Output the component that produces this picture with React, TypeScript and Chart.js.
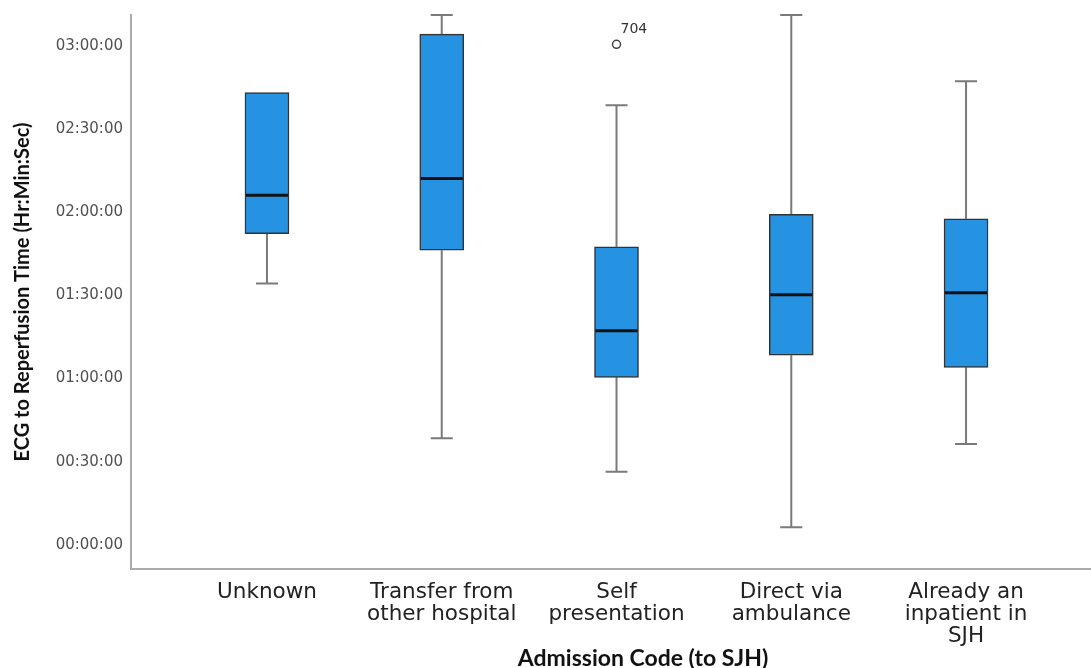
import React, { useEffect, useRef } from 'react';
import { Chart, registerables } from 'chart.js';

Chart.register(...registerables);

// Categories (multi-line tick labels)
const categories: string[][] = [
  ['Unknown'],
  ['Transfer from', 'other hospital'],
  ['Self', 'presentation'],
  ['Direct via', 'ambulance'],
  ['Already an', 'inpatient in', 'SJH'],
];

// Values in minutes
const whiskerLow = [93.8, 37.9, 25.8, 5.8, 35.8];
const quartile1 = [111.8, 105.8, 59.9, 67.9, 63.5];
const medians = [125.6, 131.7, 76.7, 89.7, 90.4];
const quartile3 = [162.7, 183.8, 107.0, 118.7, 117.1];
const whiskerHigh = [162.7, 190.7, 158.1, 190.7, 166.8];

// Outliers
const outlierCategory = [2];
const outlierValue = [180.1];
const outlierLabel = ['704'];

// Axis ticks (minutes)
const yTickValues = [0, 30, 60, 90, 120, 150, 180];
const xTickValues = [0, 1, 2, 3, 4];

const yTitle = 'ECG to Reperfusion Time (Hr:Min:Sec)';
const xTitle = 'Admission Code (to SJH)';

const fmt = (v: number) => {
  const h = Math.floor(v / 60);
  const m = Math.round(v - h * 60);
  const p = (n: number) => String(n).padStart(2, '0');
  return `${p(h)}:${p(m)}:00`;
};

const BOX_HALF = 22;
const CAP_HALF = 11;

const boxPlugin = {
  id: 'boxWhiskers',
  beforeDatasetsDraw(chart: any) {
    const { ctx, scales } = chart;
    const x = scales.x;
    const y = scales.y;
    ctx.save();
    ctx.strokeStyle = '#7a7a7a';
    ctx.lineWidth = 2;
    categories.forEach((_, i) => {
      const cx = x.getPixelForValue(i);
      const yq1 = y.getPixelForValue(quartile1[i]);
      const yq3 = y.getPixelForValue(quartile3[i]);
      const ylo = y.getPixelForValue(whiskerLow[i]);
      const yhi = y.getPixelForValue(whiskerHigh[i]);
      ctx.beginPath();
      ctx.moveTo(cx, yq3);
      ctx.lineTo(cx, yhi);
      ctx.moveTo(cx, yq1);
      ctx.lineTo(cx, ylo);
      if (whiskerHigh[i] > quartile3[i] + 0.01) {
        ctx.moveTo(cx - CAP_HALF, yhi);
        ctx.lineTo(cx + CAP_HALF, yhi);
      }
      if (whiskerLow[i] < quartile1[i] - 0.01) {
        ctx.moveTo(cx - CAP_HALF, ylo);
        ctx.lineTo(cx + CAP_HALF, ylo);
      }
      ctx.stroke();
    });
    ctx.restore();
  },
  afterDatasetsDraw(chart: any) {
    const { ctx, scales } = chart;
    const x = scales.x;
    const y = scales.y;
    ctx.save();
    ctx.strokeStyle = '#111';
    ctx.lineWidth = 3;
    categories.forEach((_, i) => {
      const cx = x.getPixelForValue(i);
      const ym = y.getPixelForValue(medians[i]);
      ctx.beginPath();
      ctx.moveTo(cx - BOX_HALF + 1, ym);
      ctx.lineTo(cx + BOX_HALF - 1, ym);
      ctx.stroke();
    });
    ctx.fillStyle = '#333';
    ctx.font = '14px "DejaVu Sans"';
    ctx.textAlign = 'left';
    ctx.textBaseline = 'alphabetic';
    outlierCategory.forEach((c, i) => {
      const px = x.getPixelForValue(c);
      const py = y.getPixelForValue(outlierValue[i]);
      ctx.fillText(outlierLabel[i], px + 4, py - 11);
    });
    ctx.restore();
  },
  afterDraw(chart: any) {
    const { ctx } = chart;
    ctx.save();
    ctx.fillStyle = '#111';
    ctx.font = 'bold 23px Lato';
    ctx.textAlign = 'center';
    ctx.textBaseline = 'alphabetic';
    ctx.fillText(xTitle, 643, 666);
    ctx.restore();
  },
};

export default function App() {
  const ref = useRef<HTMLCanvasElement | null>(null);
  useEffect(() => {
    if (!ref.current) return;
    const chart = new Chart(ref.current, {
      type: 'bar',
      data: {
        datasets: [
          {
            type: 'bar',
            data: quartile1.map((v, i) => ({ x: i, y: [v, quartile3[i]] })) as any,
            backgroundColor: '#2592e2',
            borderColor: '#333',
            borderWidth: 1.5,
            borderSkipped: false,
            barThickness: BOX_HALF * 2,
          } as any,
          {
            type: 'scatter',
            data: outlierCategory.map((c, i) => ({ x: c, y: outlierValue[i] })),
            pointStyle: 'circle',
            pointRadius: 4,
            pointBorderWidth: 1.5,
            pointBorderColor: '#444',
            pointBackgroundColor: '#fff',
            showLine: false,
          } as any,
        ],
      },
      options: {
        animation: false,
        responsive: false,
        layout: { autoPadding: false, padding: { top: 15, right: 0, left: 0, bottom: 0 } },
        plugins: { legend: { display: false }, tooltip: { enabled: false } },
        scales: {
          x: {
            type: 'linear',
            offset: false,
            min: -0.778,
            max: 4.715,
            afterBuildTicks: (s: any) => {
              s.ticks = xTickValues.map((v) => ({ value: v }));
            },
            afterFit: (s: any) => {
              s.height = 99;
              s.paddingLeft = 0;
              s.paddingRight = 0;
            },
            grid: { display: false, drawTicks: false, offset: false },
            border: { display: true, color: '#ababab', width: 2 },
            ticks: {
              autoSkip: false,
              maxRotation: 0,
              padding: 12,
              color: '#222',
              font: { family: '"DejaVu Sans"', size: 21.5, lineHeight: 1.04 },
              callback: (v: any) => categories[Math.round(Number(v))] ?? '',
            },
          } as any,
          y: {
            type: 'linear',
            min: -9.3,
            max: 190.7,
            afterBuildTicks: (s: any) => {
              s.ticks = yTickValues.map((v) => ({ value: v }));
            },
            afterFit: (s: any) => {
              s.width = 131;
              s.paddingTop = 0;
              s.paddingBottom = 0;
            },
            grid: { display: false, drawTicks: false },
            border: { display: true, color: '#ababab', width: 2 },
            ticks: {
              padding: 8,
              labelOffset: 1.5,
              color: '#505050',
              font: { family: '"DejaVu Sans"', size: 15 },
              callback: (v: any) => fmt(Number(v)),
            },
            title: {
              display: true,
              text: yTitle,
              color: '#111',
              font: { family: 'Lato', weight: 'bold', size: 20, lineHeight: 1.2 },
              padding: { top: 11, bottom: 0 },
            },
          } as any,
        },
      },
      plugins: [boxPlugin],
    });
    return () => chart.destroy();
  }, []);
  return (
    <div style={{ position: 'fixed', left: 0, top: 0, width: 1091, height: 668, background: '#fff' }}>
      <canvas ref={ref} width={1091} height={668} />
    </div>
  );
}
